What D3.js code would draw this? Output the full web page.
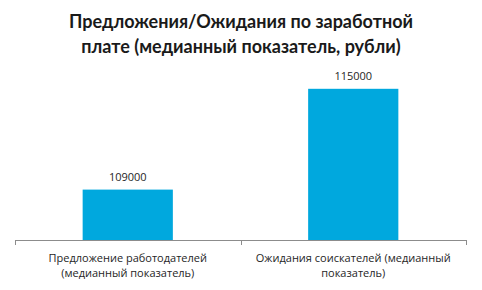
<!DOCTYPE html>
<html>
<head>
<meta charset="utf-8">
<script src="https://cdn.jsdelivr.net/npm/d3@7"></script>
<style>
  body { margin: 0; background: #fff; }
  svg { display: block; }
  .title { font-family: Lato, "Open Sans", sans-serif; font-weight: bold; font-size: 18px; fill: #1a1a1a; }
  .value { font-family: "Open Sans", "DejaVu Sans", sans-serif; font-size: 11px; fill: #262626; }
  .cat { font-family: "Open Sans", "DejaVu Sans", sans-serif; font-size: 11px; fill: #262626; }
</style>
</head>
<body>
<svg id="chart" width="482" height="290" viewBox="0 0 482 290"></svg>
<script>
// data
const titleLines = ["Предложения/Ожидания по заработной", "плате (медианный показатель, рубли)"];
const categories = [
  "Предложение работодателей\n(медианный показатель)",
  "Ожидания соискателей (медианный\nпоказатель)"
];
const values = [109000, 115000];
const yDomain = [106000, 116000];

const svg = d3.select("#chart");
const m = { top: 72, right: 16, bottom: 50, left: 15 };
const W = 482 - m.left - m.right;
const H = 290 - m.top - m.bottom;

svg.selectAll("text.title")
  .data(titleLines)
  .enter()
  .append("text")
  .attr("class", "title")
  .attr("x", 241)
  .attr("y", (d, i) => 28 + i * 25)
  .attr("text-anchor", "middle")
  .text((d) => d);

const g = svg.append("g").attr("transform", `translate(${m.left},${m.top})`);

const xS = d3.scaleBand().domain(categories).range([0, W]).paddingInner(0.6).paddingOuter(0.3);
const yS = d3.scaleLinear().domain(yDomain).range([H, 0]);

// bars
g.selectAll("rect.bar")
  .data(values)
  .enter()
  .append("rect")
  .attr("class", "bar")
  .attr("x", (d, i) => xS(categories[i]))
  .attr("width", xS.bandwidth())
  .attr("y", (d) => yS(d))
  .attr("height", (d) => H - yS(d))
  .attr("fill", "#00a8de");

// value labels
g.selectAll("text.value")
  .data(values)
  .enter()
  .append("text")
  .attr("class", "value")
  .attr("x", (d, i) => xS(categories[i]) + xS.bandwidth() / 2)
  .attr("y", (d) => yS(d) - 9)
  .attr("text-anchor", "middle")
  .text((d) => d);

// x axis: line with ticks at band edges
const edges = [0, W / 2, W];
g.append("line")
  .attr("x1", 0).attr("x2", W)
  .attr("y1", H + 0.5).attr("y2", H + 0.5)
  .attr("stroke", "#8c8c8c");
g.selectAll("line.tick")
  .data(edges)
  .enter()
  .append("line")
  .attr("class", "tick")
  .attr("x1", (d) => Math.round(d) + 0.5).attr("x2", (d) => Math.round(d) + 0.5)
  .attr("y1", H).attr("y2", H + 5)
  .attr("stroke", "#8c8c8c");

// category labels
categories.forEach((c, i) => {
  const cx = xS(c) + xS.bandwidth() / 2;
  const t = g.append("text")
    .attr("class", "cat")
    .attr("text-anchor", "middle");
  c.split("\n").forEach((line, j) => {
    t.append("tspan")
      .attr("x", cx)
      .attr("y", H + 22 + j * 15)
      .text(line);
  });
});
</script>
</body>
</html>
